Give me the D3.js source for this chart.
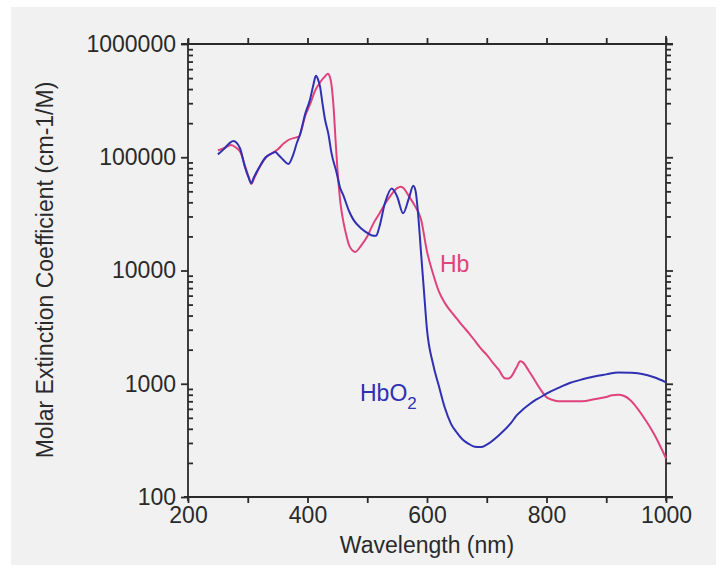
<!DOCTYPE html>
<html>
<head>
<meta charset="utf-8">
<script src="https://cdn.jsdelivr.net/npm/d3@7"></script>
<style>
  body { margin: 0; background: #ffffff; }
  svg { display: block; font-family: "Liberation Sans", Arial, sans-serif; }
</style>
</head>
<body>
<div id="chart"></div>
<script>
// HbO2 (oxy-haemoglobin) - wavelength (nm) / molar extinction coefficient
const hbo2Wave = [250, 260, 270, 276, 287, 295, 301, 306, 310, 320, 330, 340, 346, 352, 360, 368, 376, 382, 388, 396, 404, 410, 414, 418, 421, 425, 429, 435, 440, 449, 454, 460, 470, 477, 490, 500, 510, 515, 520, 530, 541, 550, 560, 570, 577, 581, 585, 590, 595, 600, 610, 620, 630, 640, 650, 660, 670, 680, 690, 700, 720, 740, 750, 760, 770, 780, 790, 800, 820, 840, 860, 880, 900, 920, 940, 960, 980, 1000];
const hbo2Vals = [106000, 118000, 134000, 139000, 120000, 83000, 67000, 59000, 66000, 83000, 100000, 108000, 111000, 104000, 94000, 87000, 105000, 133000, 162000, 240000, 320000, 440000, 525000, 480000, 420000, 300000, 220000, 160000, 110000, 72000, 55000, 46000, 33000, 28000, 23500, 21500, 20300, 20300, 24000, 40000, 53000, 45000, 32000, 44000, 56000, 50000, 32000, 14400, 6500, 3000, 1500, 950, 610, 445, 370, 320, 294, 278, 276, 290, 350, 446, 525, 590, 650, 710, 760, 820, 920, 1020, 1095, 1160, 1210, 1260, 1250, 1220, 1140, 1030];

// Hb (deoxy-haemoglobin)
const hbWave = [250, 260, 272, 280, 288, 296, 302, 306, 310, 320, 330, 340, 350, 360, 368, 380, 386, 390, 396, 400, 406, 412, 420, 428, 434, 438, 441, 444, 447, 450, 455, 460, 466, 470, 480, 490, 500, 510, 520, 530, 540, 550, 556, 560, 570, 580, 590, 600, 610, 620, 630, 640, 650, 660, 670, 680, 690, 700, 710, 720, 730, 736, 740, 750, 756, 760, 770, 780, 790, 800, 810, 820, 840, 860, 880, 900, 910, 920, 930, 940, 960, 980, 1000];
const hbVals = [115000, 120000, 128000, 122000, 110000, 82000, 66000, 58000, 64000, 82000, 99000, 108000, 117000, 132000, 142000, 149000, 152000, 175000, 230000, 260000, 310000, 380000, 450000, 510000, 545000, 500000, 400000, 260000, 140000, 80000, 40000, 27000, 19500, 16500, 14600, 16700, 20000, 25800, 31600, 39000, 46600, 53400, 55000, 53800, 45000, 37000, 28300, 14700, 9400, 6500, 5150, 4350, 3750, 3230, 2800, 2400, 2050, 1800, 1540, 1330, 1120, 1110, 1140, 1400, 1580, 1550, 1310, 1080, 890, 760, 720, 700, 700, 700, 730, 765, 790, 800, 780, 720, 530, 360, 220];

const xMajor = [200, 400, 600, 800, 1000];
const xMinor = [300, 500, 700, 900];
const yMajor = [100, 1000, 10000, 100000, 1000000];

const width = 720, height = 565;
const marginLeft = 188, marginRight = 54, marginTop = 44, marginBottom = 68;
const blue = "#2f30b2", pink = "#e0437c", ink = "#2a2a2a";
const fontSize = 23;

const x = d3.scaleLinear().domain([200, 1000]).range([marginLeft, width - marginRight]);
const y = d3.scaleLog().domain([100, 1000000]).range([height - marginBottom, marginTop]);

const yMinor = [];
yMajor.slice(0, -1).forEach(d => { for (let k = 2; k <= 9; k++) yMinor.push(d * k); });

const svg = d3.select("#chart").append("svg")
    .attr("width", width)
    .attr("height", height)
    .attr("viewBox", [0, 0, width, height]);

svg.append("rect")
    .attr("x", 11).attr("y", 7)
    .attr("width", 705).attr("height", height - 7)
    .attr("fill", "#f1f1f1");

const styleAxis = g => {
    g.select(".domain").remove();
    g.selectAll(".tick line").attr("stroke", ink).attr("stroke-width", 1.8);
    g.selectAll(".tick text").attr("fill", ink).attr("font-size", fontSize);
};

// frame lines, extended a little past the corners
const x0 = x.range()[0], x1 = x.range()[1], y0 = y.range()[0], y1 = y.range()[1];
const frame = svg.append("g").attr("stroke", ink).attr("stroke-width", 1.8);
frame.append("line").attr("x1", x0 - 4).attr("x2", x1 + 7).attr("y1", y0).attr("y2", y0);
frame.append("line").attr("x1", x0 - 7).attr("x2", x1 + 7).attr("y1", y1).attr("y2", y1);
frame.append("line").attr("x1", x0).attr("x2", x0).attr("y1", y1 - 5).attr("y2", y0 + 4);
frame.append("line").attr("x1", x1).attr("x2", x1).attr("y1", y1 - 8).attr("y2", y0 + 4);

// bottom axis
svg.append("g")
    .attr("transform", `translate(0,${y0})`)
    .call(d3.axisBottom(x).tickValues(xMajor).tickSize(6).tickPadding(4).tickFormat(d3.format("d")))
    .call(styleAxis);
svg.append("g")
    .attr("transform", `translate(0,${y0})`)
    .call(d3.axisBottom(x).tickValues(xMinor).tickSize(6).tickFormat(""))
    .call(styleAxis);

// top axis
svg.append("g")
    .attr("transform", `translate(0,${y1})`)
    .call(d3.axisTop(x).tickValues(xMajor.concat(xMinor)).tickSize(6).tickFormat(""))
    .call(styleAxis);

// left axis
svg.append("g")
    .attr("transform", `translate(${x0},0)`)
    .call(d3.axisLeft(y).tickValues(yMajor).tickSize(7).tickPadding(5).tickFormat(d3.format("d")))
    .call(styleAxis);
svg.append("g")
    .attr("transform", `translate(${x0},0)`)
    .call(d3.axisLeft(y).tickValues(yMinor).tickSize(-5).tickFormat(""))
    .call(styleAxis);

// right axis
svg.append("g")
    .attr("transform", `translate(${x1},0)`)
    .call(d3.axisRight(y).tickValues(yMajor).tickSize(7).tickFormat(""))
    .call(styleAxis);
svg.append("g")
    .attr("transform", `translate(${x1},0)`)
    .call(d3.axisRight(y).tickValues(yMinor).tickSize(5).tickFormat(""))
    .call(styleAxis);

const line = d3.line()
    .curve(d3.curveMonotoneX)
    .x(d => x(d[0]))
    .y(d => y(d[1]));

const series = [
    {name: "Hb", color: pink, pts: d3.zip(hbWave, hbVals)},
    {name: "HbO2", color: blue, pts: d3.zip(hbo2Wave, hbo2Vals)}
];

svg.append("g")
    .selectAll("path")
    .data(series)
    .join("path")
    .attr("fill", "none")
    .attr("stroke", d => d.color)
    .attr("stroke-width", 2)
    .attr("stroke-linejoin", "round")
    .attr("d", d => line(d.pts));

// in-plot labels
svg.append("text")
    .attr("x", 440).attr("y", 272)
    .attr("fill", pink)
    .attr("font-size", fontSize)
    .text("Hb");
const lab = svg.append("text")
    .attr("x", 360).attr("y", 401)
    .attr("fill", blue)
    .attr("font-size", fontSize)
    .text("HbO");
lab.append("tspan")
    .attr("dy", 8)
    .attr("font-size", 17)
    .text("2");

// axis titles
svg.append("text")
    .attr("x", (x0 + x1) / 2).attr("y", 553)
    .attr("text-anchor", "middle")
    .attr("fill", ink)
    .attr("font-size", fontSize)
    .text("Wavelength (nm)");
svg.append("text")
    .attr("transform", `translate(53,${270}) rotate(-90)`)
    .attr("text-anchor", "middle")
    .attr("fill", ink)
    .attr("font-size", fontSize)
    .text("Molar Extinction Coefficient (cm-1/M)");
</script>
</body>
</html>
